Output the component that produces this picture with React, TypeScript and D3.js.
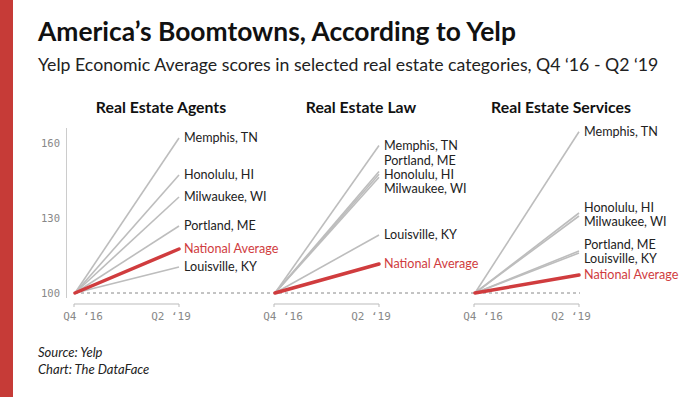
import React from "react";
import * as d3 from "d3";

const categories = ["Real Estate Agents", "Real Estate Law", "Real Estate Services"];
const cities = ["Memphis, TN", "Honolulu, HI", "Milwaukee, WI", "Portland, ME", "Louisville, KY", "National Average"];
const periods = ["Q4 \u201816", "Q2 \u201819"];
const startValue = 100;
const agentsEnd = [162, 147.2, 138.4, 126.8, 110.4, 117.6];
const lawEnd = [159, 147.5, 146.3, 148.6, 123.2, 111.6];
const servicesEnd = [164.5, 132, 130.8, 116.8, 116, 107.2];
const yTicks = [100, 130, 160];
const seriesByCategory = [agentsEnd, lawEnd, servicesEnd];

const W = 680;
const H = 397;
const GREY = "#bdbdbd";
const RED = "#d03c3e";

function placeLabels(ys: number[], gap: number): number[] {
  const idx = ys.map((y, i) => i).sort((a, b) => ys[a] - ys[b]);
  type C = { items: number[]; center: number };
  let clusters: C[] = idx.map((i) => ({ items: [i], center: ys[i] }));
  let changed = true;
  while (changed) {
    changed = false;
    for (let k = 0; k < clusters.length - 1; k++) {
      const a = clusters[k], b = clusters[k + 1];
      const aBottom = a.center + ((a.items.length - 1) * gap) / 2;
      const bTop = b.center - ((b.items.length - 1) * gap) / 2;
      if (bTop - aBottom < gap) {
        const items = a.items.concat(b.items);
        const center = d3.mean(items, (i) => ys[i]) as number;
        clusters.splice(k, 2, { items, center });
        changed = true;
        break;
      }
    }
  }
  const out = new Array(ys.length).fill(0);
  clusters.forEach((c) => {
    const top = c.center - ((c.items.length - 1) * gap) / 2;
    c.items.forEach((i, j) => (out[i] = top + j * gap));
  });
  return out;
}

export default function App() {
  const y = d3.scaleLinear().domain([98, 166]).range([298, 128]);
  const panelX = d3.scalePoint<string>().domain(categories).range([75, 475]);
  const panelW = 104;
  const axisY = 304;
  const mono = "'DejaVu Sans Mono', monospace";
  const sans = "Lato, 'Noto Sans', sans-serif";

  return (
    <svg width={W} height={H} style={{ display: "block", position: "absolute", left: 0, top: 0 }}>
      <rect x={0} y={0} width={W} height={H} fill="#fff" />
      <rect x={0} y={0} width={13} height={H} fill="#c63b37" />
      <text x={38} y={41} fontFamily={sans} fontWeight={700} fontSize={26.4} fill="#111">
        America’s Boomtowns, According to Yelp
      </text>
      <text x={38} y={71} fontFamily={sans} fontSize={17.7} fill="#222">
        Yelp Economic Average scores in selected real estate categories, Q4 ‘16 - Q2 ‘19
      </text>

      <line x1={66.5} x2={66.5} y1={y(166)} y2={y(98)} stroke="#ccc" strokeWidth={1} />
      {yTicks.map((t) => (
        <text key={t} x={60} y={y(t)} dy="0.35em" textAnchor="end" fontFamily={mono} fontSize={10.5} fill="#888">
          {t}
        </text>
      ))}

      <line x1={75} x2={580} y1={y(startValue)} y2={y(startValue)} stroke="#888" strokeWidth={1} strokeDasharray="3,3" />

      {categories.map((cat, ci) => {
        const x0 = panelX(cat) as number;
        const x = d3.scalePoint<string>().domain(periods).range([x0, x0 + panelW]);
        const vals = seriesByCategory[ci];
        const ends = vals.map((v) => y(v));
        const labelYs = placeLabels(ends, 14);
        const line = d3.line<[number, number]>().x((d) => d[0]).y((d) => d[1]);
        const natIdx = cities.indexOf("National Average");
        const order = cities.map((c, i) => i).filter((i) => i !== natIdx);
        return (
          <g key={cat}>
            <text x={x0 + 86} y={113} textAnchor="middle" fontFamily={sans} fontWeight={700} fontSize={15.8} fill="#111">
              {cat}
            </text>
            {order.map((i) => (
              <path
                key={cities[i]}
                d={line([
                  [x(periods[0]) as number, y(startValue)],
                  [x(periods[1]) as number, y(vals[i])],
                ]) as string}
                stroke={GREY}
                strokeWidth={1.6}
                fill="none"
              />
            ))}
            <path
              d={line([
                [x(periods[0]) as number, y(startValue)],
                [x(periods[1]) as number, y(vals[natIdx])],
              ]) as string}
              stroke={RED}
              strokeWidth={3.5}
              fill="none"
              strokeLinecap="round"
            />
            {cities.map((c, i) => (
              <text
                key={c}
                x={(x(periods[1]) as number) + 5}
                y={labelYs[i]}
                dy="0.35em"
                fontFamily={sans}
                fontSize={12.6}
                fill={i === natIdx ? RED : "#222"}
              >
                {c}
              </text>
            ))}
            <path
              d={`M${x0 - 1},${axisY + 3}V${axisY}H${x0 + panelW}V${axisY + 3}`}
              stroke="#bbb"
              fill="none"
              strokeWidth={1}
            />
            <text x={(x(periods[0]) as number) + 8} y={320} textAnchor="middle" fontFamily={mono} fontSize={11} fill="#888">
              {periods[0].replace(" ", "  ")}
            </text>
            <text x={(x(periods[1]) as number) - 8} y={320} textAnchor="middle" fontFamily={mono} fontSize={11} fill="#888">
              {periods[1].replace(" ", "  ")}
            </text>
          </g>
        );
      })}

      <text x={38} y={357} fontFamily={sans} fontStyle="italic" fontSize={13} fill="#222">
        Source: Yelp
      </text>
      <text x={38} y={374} fontFamily={sans} fontStyle="italic" fontSize={13} fill="#222">
        Chart: The DataFace
      </text>
    </svg>
  );
}
